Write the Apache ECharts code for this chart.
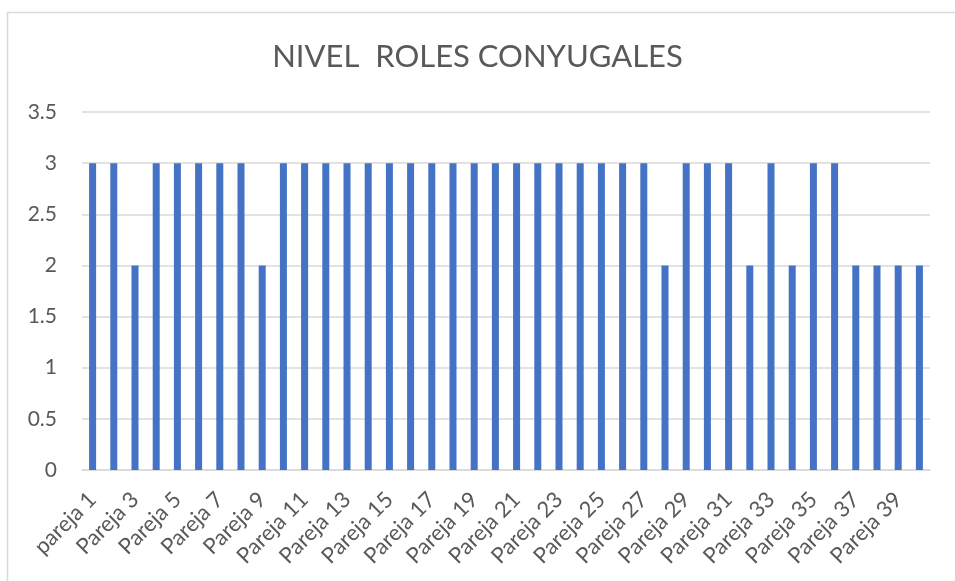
<!DOCTYPE html>
<html lang="es" style="height: 100%">
  <head>
    <meta charset="utf-8">
    <title>NIVEL ROLES CONYUGALES</title>
  </head>
  <body style="height: 100%; margin: 0; background: #fff">
    <div id="container" style="width: 955px; height: 581px;"></div>
    <script type="text/javascript" src="https://cdn.jsdelivr.net/npm/echarts@6/dist/echarts.min.js"></script>
    <script type="text/javascript">
      // datos del grafico
      var categorias = [];
      for (var i = 1; i <= 40; i++) {
          categorias.push((i === 1 ? 'pareja ' : 'Pareja ') + i);
      }
      var valores = [
          3, 3, 2, 3, 3, 3, 3, 3, 2, 3,
          3, 3, 3, 3, 3, 3, 3, 3, 3, 3,
          3, 3, 3, 3, 3, 3, 3, 2, 3, 3,
          3, 2, 3, 2, 3, 3, 2, 2, 2, 2
      ];
      var titulo = 'NIVEL  ROLES CONYUGALES';

      var dom = document.getElementById("container");
      var myChart = echarts.init(dom, null, {renderer: 'canvas'});

      var fuente = 'Lato, "Noto Sans", sans-serif';

      var option = {
          animation: false,
          backgroundColor: '#ffffff',
          textStyle: {fontFamily: fuente},
          title: {
              text: titulo,
              left: 'center',
              top: 36,
              textStyle: {
                  fontFamily: fuente,
                  fontSize: 31,
                  fontWeight: 'normal',
                  color: '#595959'
              }
          },
          graphic: [
              {
                  type: 'polyline',
                  shape: {points: [[7.5, 600], [7.5, 12.5], [955, 12.5]]},
                  style: {stroke: '#d9d9d9', lineWidth: 1.5, fill: null},
                  silent: true
              }
          ],
          grid: {
              left: 82,
              right: 25,
              top: 112,
              bottom: 111,
              containLabel: false
          },
          xAxis: {
              type: 'category',
              data: categorias,
              axisTick: {show: false},
              axisLine: {lineStyle: {color: '#d9d9d9', width: 1.5}},
              axisLabel: {
                  interval: 1,
                  rotate: 45,
                  color: '#595959',
                  fontSize: 22,
                  fontFamily: fuente,
                  margin: 26
              }
          },
          yAxis: {
              type: 'value',
              min: 0,
              max: 3.5,
              interval: 0.5,
              axisLine: {show: false},
              axisTick: {show: false},
              splitLine: {lineStyle: {color: '#d9d9d9', width: 1.5}},
              axisLabel: {
                  color: '#595959',
                  fontSize: 21,
                  fontFamily: fuente,
                  margin: 25
              }
          },
          series: [
              {
                  name: 'Nivel',
                  type: 'bar',
                  data: valores,
                  barWidth: 7,
                  itemStyle: {color: '#4472c4'}
              }
          ]
      };

      myChart.setOption(option);
    </script>
  </body>
</html>
